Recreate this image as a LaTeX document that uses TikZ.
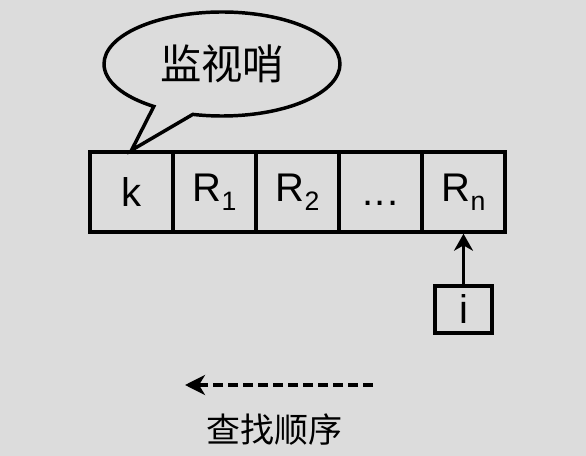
\documentclass[tikz,border=0pt]{standalone}
\usepackage{fontspec}
\setmainfont{Liberation Sans}
\newfontfamily\cjk{Noto Sans CJK SC}
\usetikzlibrary{shapes.callouts,arrows.meta}
\definecolor{bgGray}{RGB}{220,220,220}
\newcommand{\cellsub}[1]{\raisebox{-0.22em}{\fontsize{20}{20}\selectfont #1}}
\tikzset{every picture/.style={line width=2.6pt}}
\tikzset{
	cell/.style={draw, minimum width=62.25pt, minimum height=60pt, inner sep=0pt, font=\fontsize{30}{30}\selectfont},
	idxbox/.style={cell, minimum width=42.75pt, minimum height=35.25pt},
	cjklabel/.style={font=\cjk\fontsize{#1}{#1}\selectfont},
	tip/.style={-{Stealth[length=12.75pt,width=14.25pt,inset=4pt]}}}

\begin{document}
\begin{tikzpicture}[x=0.75pt,y=0.75pt,yscale=-1,xscale=1]
	%Shape: Background
	\fill [bgGray] (0,0) rectangle (586,456) ;

	%Shape: Array cells
	\node [cell] (k) at (131.5,192) {k};
	\node [cell] (R1) at (214.5,192) {R\cellsub{1}};
	\node [cell] (R2) at (297.5,192) {R\cellsub{2}};
	\node [cell] (dots) at (380.5,192) {\vphantom{R}.\kern0.04em.\kern0.04em.};
	\node [cell] (Rn) at (463.5,192) {R\cellsub{n}};

	%Shape: Callout
	\node [ellipse callout, draw, minimum width=177pt, minimum height=78pt, inner sep=0pt, callout absolute pointer={(k.north)}, callout pointer arc=21, cjklabel=31] (guard) at (222,64) {监视哨};

	%Shape: Index box
	\node [idxbox] (idx) at (463.5,309.5) {i};
	%Straight Lines
	\draw [tip] (idx) -- (Rn) ;

	%Straight Lines: search order
	\coordinate (orderR) at (373,385) ;
	\coordinate (orderL) at (185,385) ;
	\draw [-{Stealth[length=15pt,width=15pt,inset=4.5pt]}, dash pattern={on 7.5pt off 3.75pt}] (orderR) -- (orderL) ;

	% Text Node
	\node [cjklabel=25.5] (order) at (274,430) {查找顺序};

\end{tikzpicture}
\end{document}
